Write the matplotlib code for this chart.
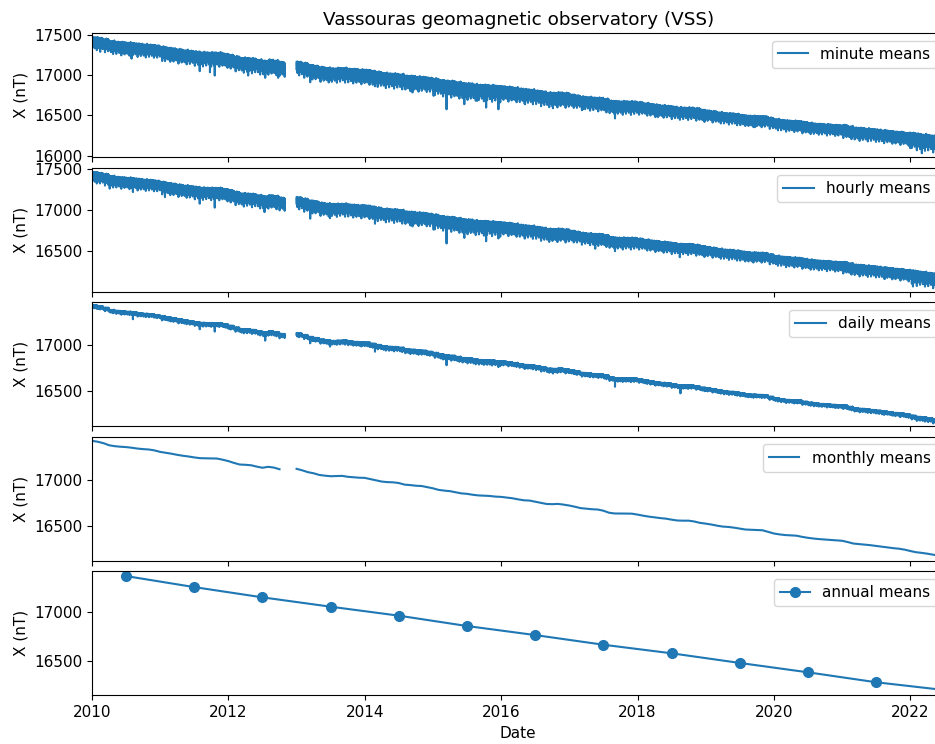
import numpy as np
import matplotlib
matplotlib.use("Agg")
from matplotlib import pyplot as plt

plt.rcParams["font.size"] = 11

# monthly means of X (nT), one value per month from Jan 2010, None = no data
monthly_x = [
    17420, 17410, 17395, 17372, 17362, 17356, 17352, 17345, 17336, 17330, 17326, 17316,  # 2010
    17300, 17290, 17280, 17268, 17258, 17250, 17240, 17232, 17230, 17229, 17228, 17215,  # 2011
    17200, 17180, 17163, 17160, 17155, 17140, 17128, 17138, 17130, 17112, None, None,    # 2012
    17116, 17100, 17080, 17068, 17050, 17042, 17036, 17038, 17040, 17030, 17025, 17020,  # 2013
    17018, 17005, 16992, 16978, 16972, 16970, 16962, 16945, 16940, 16933, 16930, 16918,  # 2014
    16905, 16888, 16880, 16874, 16862, 16850, 16845, 16835, 16828, 16825, 16822, 16815,  # 2015
    16812, 16805, 16797, 16785, 16775, 16772, 16760, 16748, 16735, 16733, 16736, 16728,  # 2016
    16718, 16705, 16690, 16684, 16678, 16675, 16662, 16640, 16632, 16632, 16631, 16630,  # 2017
    16620, 16608, 16598, 16590, 16582, 16576, 16565, 16556, 16554, 16554, 16545, 16530,  # 2018
    16522, 16512, 16500, 16490, 16486, 16478, 16468, 16458, 16455, 16453, 16450, 16432,  # 2019
    16415, 16405, 16398, 16394, 16391, 16378, 16368, 16360, 16354, 16350, 16345, 16340,  # 2020
    16336, 16322, 16306, 16300, 16294, 16288, 16280, 16272, 16265, 16256, 16250, 16240,  # 2021
    16225, 16212, 16205, 16196, 16185, 16175,                                            # 2022
]

# annual means of X (nT)
annual_years = [2010, 2011, 2012, 2013, 2014, 2015, 2016, 2017, 2018, 2019, 2020, 2021, 2022]
annual_x = [17362, 17250, 17146, 17051, 16960, 16855, 16763, 16665, 16578, 16480, 16385, 16284, 16205]

# spread of the faster series around the monthly level, per year 2010..2022 (nT)
minute_up = [48, 48, 48, 45, 45, 48, 45, 40, 40, 36, 36, 40, 55]
minute_down = [40, 45, 48, 48, 50, 55, 48, 45, 40, 36, 36, 42, 52]
hourly_up = [36, 36, 36, 34, 34, 36, 34, 30, 30, 28, 28, 30, 40]
hourly_down = [36, 40, 44, 44, 46, 50, 44, 40, 36, 33, 33, 38, 48]
daily_up = [9, 9, 9, 9, 9, 10, 9, 8, 8, 7, 7, 8, 9]
daily_down = [10, 12, 13, 13, 14, 16, 13, 12, 11, 10, 10, 11, 13]

# deepest storm-time dips seen in each series (decimal year, nT)
minute_storm_t = [2010.12, 2010.58, 2011.07, 2011.19, 2011.58, 2011.73, 2011.80, 2012.29,
                  2012.54, 2012.73, 2013.20, 2013.49, 2014.15, 2014.70, 2015.01, 2015.20,
                  2015.46, 2015.65, 2015.78, 2015.96, 2016.35, 2016.76, 2017.20, 2017.67,
                  2018.23, 2018.30, 2018.45, 2018.62, 2019.72, 2020.67, 2021.55, 2022.00,
                  2022.17, 2022.31]
minute_storm_x = [17287, 17203, 17173, 17203, 17048, 17035, 16994, 16994,
                  16965, 16965, 16911, 16933, 16860, 16784, 16742, 16575,
                  16638, 16680, 16596, 16575, 16638, 16588, 16575, 16462,
                  16513, 16479, 16504, 16450, 16353, 16303, 16240, 16093,
                  16030, 16093]
hourly_storm_t = [2010.26, 2010.60, 2011.07, 2011.58, 2011.80, 2012.53, 2012.75, 2013.20,
                  2013.49, 2014.15, 2014.70, 2015.01, 2015.20, 2015.46, 2015.78, 2015.96,
                  2016.35, 2016.76, 2017.20, 2017.38, 2017.67, 2018.62, 2019.69, 2020.67,
                  2021.63, 2022.04, 2022.24]
hourly_storm_x = [17257, 17216, 17155, 17075, 17027, 16973, 16994, 16893,
                  16900, 16832, 16800, 16760, 16593, 16660, 16620, 16654,
                  16660, 16678, 16618, 16529, 16500, 16427, 16367, 16320,
                  16165, 16072, 16104]
daily_storm_t = [2010.60, 2011.58, 2011.80, 2012.54, 2012.75, 2013.20, 2013.49, 2014.15,
                 2015.20, 2015.96, 2016.76, 2017.67, 2018.63, 2021.85, 2022.24]
daily_storm_x = [17279, 17170, 17145, 17047, 17072, 17018, 16982, 16927,
                 16780, 16760, 16690, 16547, 16475, 16221, 16185]

month_t = [2010 + i / 12 for i in range(len(monthly_x))]
monthly_vals = np.array([np.nan if v is None else v for v in monthly_x], dtype=float)
annual_t = [y + 0.5 for y in annual_years]

# shape of the day-to-day wiggle (runs on across months)
rise = [1.0, 0.6, 0.9, 0.5, 1.1, 0.7, 0.4, 0.9, 0.8, 0.6, 1.0, 0.5,
        0.9, 0.7, 0.6, 1.0, 0.8, 1.2, 0.5, 0.7, 0.9, 0.6, 1.0]
sink = [0.3, 1.0, 0.5, 1.6, 0.2, 1.2, 0.6, 2.2, 0.4, 0.9, 0.3, 1.4,
        0.7, 2.8, 0.5, 1.1, 0.8, 1.9, 0.4, 0.6, 1.3, 0.3, 2.5]
SAMPLES = 16


def band_trace(up, down, storm_t, storm_x):
    t, x = [], []
    j = 0
    for i, m in enumerate(monthly_x):
        t0 = month_t[i]
        if m is None:
            t.append(t0)
            x.append(np.nan)
            continue
        yr = i // 12
        for k in range(SAMPLES):
            tk = t0 + k / (12 * SAMPLES)
            t += [tk, tk + 1 / (24 * SAMPLES)]
            x += [m + up[yr] * rise[j % len(rise)], m - down[yr] * sink[j % len(sink)]]
            j += 1
    t += list(storm_t)
    x += list(storm_x)
    order = np.argsort(t, kind="stable")
    return np.array(t)[order], np.array(x)[order]


fig, axs = plt.subplots(5, 1, sharex=True, figsize=(9.35, 7.44), dpi=100)
fig.subplots_adjust(left=0.0984, right=1.01, top=0.9556, bottom=0.0655, hspace=0.086)

t, x = band_trace(minute_up, minute_down, minute_storm_t, minute_storm_x)
axs[0].plot(t, x, lw=1.5, label="minute means")
axs[0].set_ylim(15984, 17521)
axs[0].set_title("Vassouras geomagnetic observatory (VSS)")

t, x = band_trace(hourly_up, hourly_down, hourly_storm_t, hourly_storm_x)
axs[1].plot(t, x, lw=1.5, label="hourly means")
axs[1].set_ylim(16011, 17512)

t, x = band_trace(daily_up, daily_down, daily_storm_t, daily_storm_x)
axs[2].plot(t, x, lw=1.5, label="daily means")
axs[2].set_ylim(16120, 17464)

axs[3].plot(month_t, monthly_vals, lw=1.5, label="monthly means")
axs[3].set_ylim(16120, 17464)

axs[4].plot(annual_t, annual_x, marker="o", ms=7, lw=1.5, label="annual means")
axs[4].set_ylim(16152, 17410)

for ax in axs:
    ax.set_ylabel("X (nT)")
    ax.legend(loc="upper right")
axs[4].set_xlim(2010, 2022.50)
axs[4].set_xticks([2010, 2012, 2014, 2016, 2018, 2020, 2022])
axs[4].set_xlabel("Date")

fig.savefig("out.png", dpi=100)
